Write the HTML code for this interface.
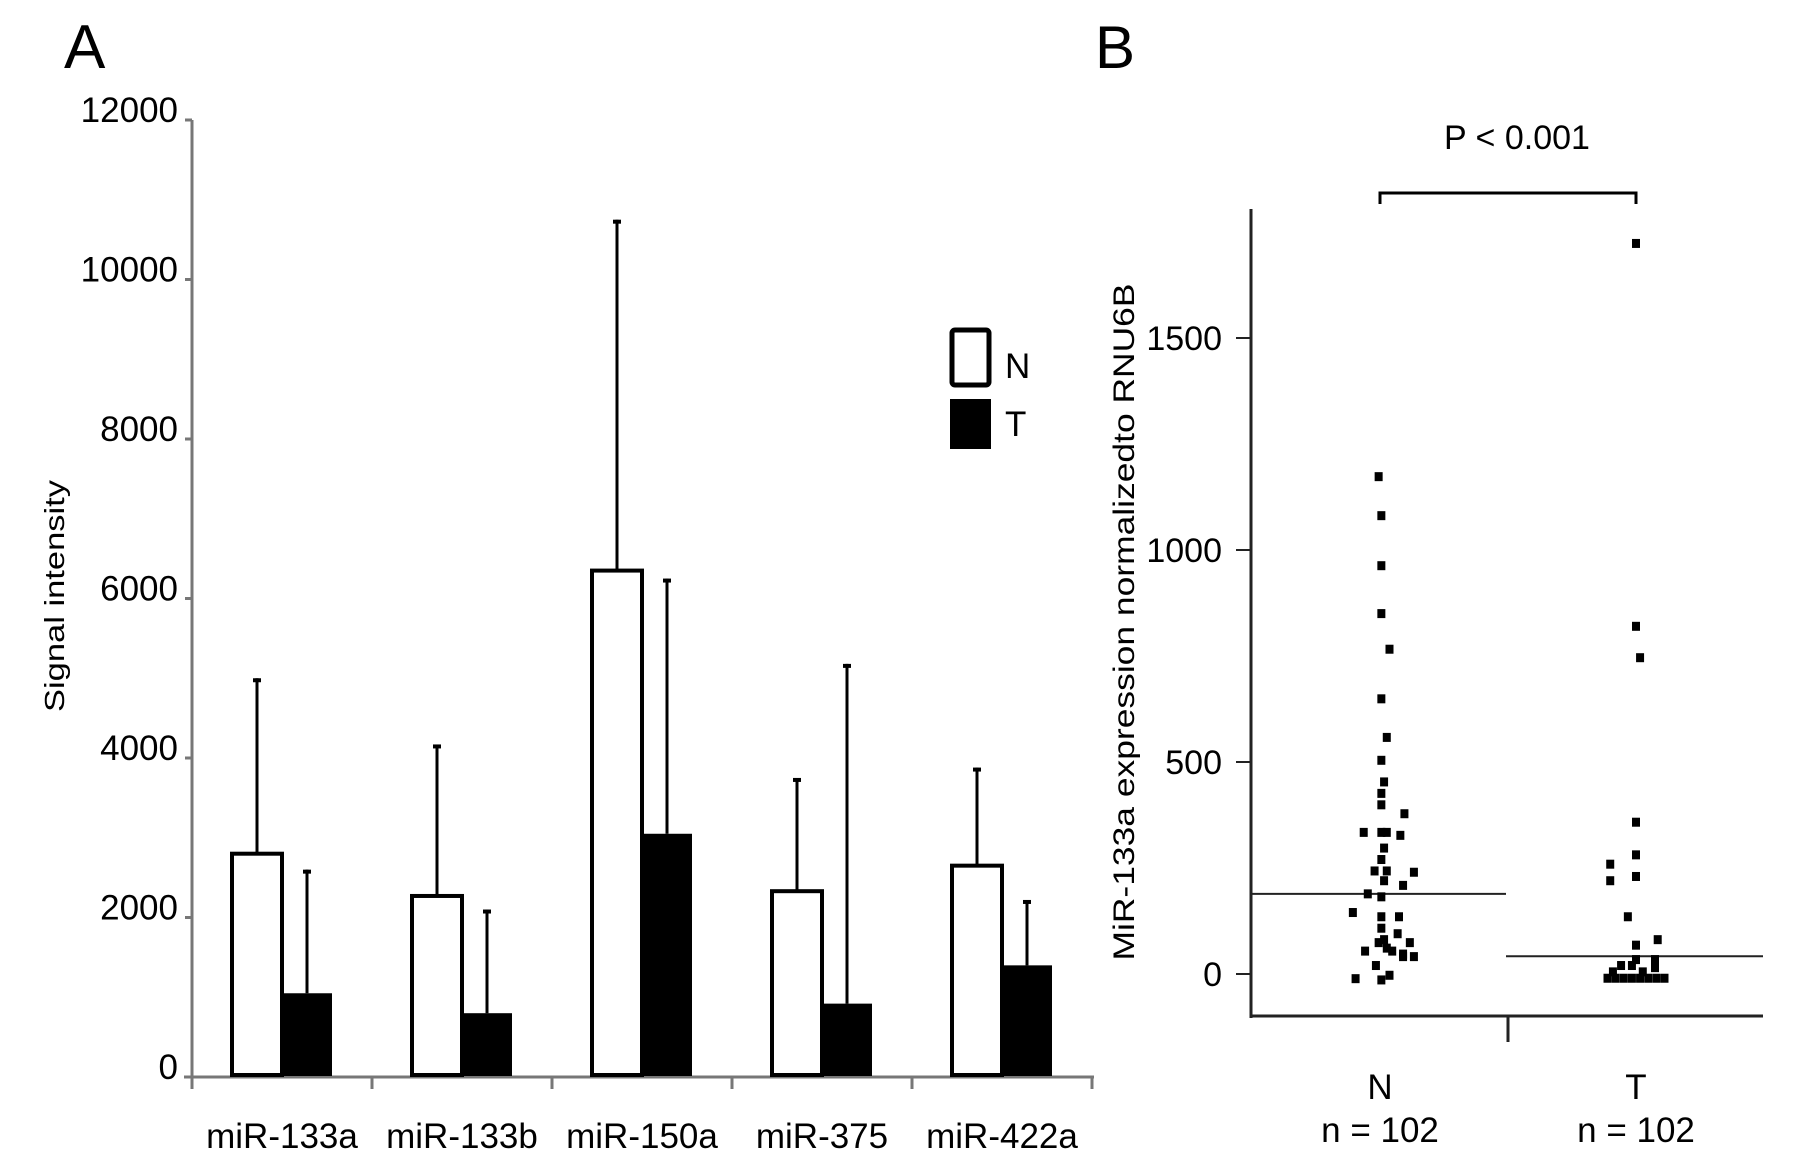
<!DOCTYPE html>
<html><head><meta charset="utf-8"><style>
html,body{margin:0;padding:0;background:#fff;}
svg{display:block;font-family:"Liberation Sans",Arial,sans-serif;}
</style></head><body>
<svg id="fig" width="1807" height="1165" viewBox="0 0 1807 1165">
<text x="64" y="68" font-size="62">A</text>
<text x="1095" y="68" font-size="60">B</text>
<g id="chartA"></g>
<g id="chartB"></g>
</svg>
<script>
// ---- Panel A data ----
const categoriesA = ["miR-133a","miR-133b","miR-150a","miR-375","miR-422a"];
const valuesN = [2800, 2270, 6350, 2330, 2650];
const valuesT = [1050, 800, 3050, 920, 1400];
const errTopN = [5000, 4170, 10750, 3750, 3880];
const errTopT = [2600, 2100, 6250, 5180, 2220];
const ticksA = [0, 2000, 4000, 6000, 8000, 10000, 12000];
// ---- Panel B data ----
const groupsB = ["N","T"];
const groupN = ["n = 102","n = 102"];
const pointsN = [1173,1081,963,850,766,649,558,504,453,426,399,378,334,334,334,327,297,270,243,243,240,220,209,189,182,145,135,135,108,95,81,74,54,54,47,41,20,-3,-11,-14,74,61,41];
const jitterN = [-0.01,0.01,0.01,0.01,0.07,0.01,0.05,0.01,0.03,0.01,0.01,0.18,-0.12,0.01,0.05,0.15,0.03,0.01,-0.04,0.05,0.25,0.03,0.17,-0.09,0.01,-0.2,0.01,0.14,0.01,0.13,0.03,0.22,-0.11,0.09,0.17,0.25,-0.03,0.07,-0.18,0.01,-0.01,0.05,0.17];
const pointsT = [1723,820,746,358,281,259,220,230,135,68,81,34,34,20,20,-10,-10,-10,-10,-10,-10,-10,-10,5,5,15];
const jitterT = [0,0,0.03,0,0,-0.19,-0.19,0,-0.06,0,0.16,0,0.14,-0.11,-0.03,-0.21,-0.15,-0.09,-0.03,0.03,0.09,0.15,0.21,-0.17,0.05,0.14];
const mediansB = [189, 42];
const ticksB = [0, 500, 1000, 1500];

const NS = "http://www.w3.org/2000/svg";
function mk(parent, tag, attrs, text){
  const e = document.createElementNS(NS, tag);
  for (const k in attrs) e.setAttribute(k, attrs[k]);
  if (text !== undefined) e.textContent = text;
  parent.appendChild(e);
  return e;
}

// ---- Panel A ----
(function(){
  const g = document.getElementById('chartA');
  const x0 = 192, y0 = 1077, yTop = 120, band = 180;
  const yA = v => y0 - v * (y0 - yTop) / 12000;
  const bx = i => x0 + band * i;
  let e;
  e = mk(g,'line',{x1:x0,y1:yTop,x2:x0,y2:y0,stroke:'#777','stroke-width':3});
  
  
  e = mk(g,'line',{x1:x0-8,y1:y0,x2:x0+band*categoriesA.length+2,y2:y0,stroke:'#777','stroke-width':3});
  
  
  ticksA.forEach(t=>{
    e = mk(g,'line',{x1:x0-7,y1:yA(t),x2:x0,y2:yA(t),stroke:'#777','stroke-width':3});
    
    
    e = mk(g,'text',{x:178,y:yA(t)+2,'font-size':35,'text-anchor':'end'},String(t));
    
    
  });
  for (let i=0;i<=categoriesA.length;i++){
    e = mk(g,'line',{x1:bx(i),y1:y0,x2:bx(i),y2:y0+12,stroke:'#777','stroke-width':3});
    
    
  }
  e = mk(g,'text',{x:0,y:0,'font-size':28,'text-anchor':'middle',transform:'translate(64,596) rotate(-90)',textLength:232,lengthAdjust:'spacingAndGlyphs'},'Signal intensity');
  
  
  const bw = 50;
  categoriesA.forEach((c,i)=>{
    const nx = bx(i)+40, tx = nx+bw;
    [[nx,valuesN[i],errTopN[i]],[tx,valuesT[i],errTopT[i]]].forEach((d,k)=>{
      const cx = d[0]+bw/2;
      e = mk(g,'line',{x1:cx,y1:yA(d[1]),x2:cx,y2:yA(d[2]),stroke:'#000','stroke-width':3});
      
      
      e = mk(g,'line',{x1:cx-4,y1:yA(d[2])+2,x2:cx+4,y2:yA(d[2])+2,stroke:'#000','stroke-width':4});
      
      
    });
    e = mk(g,'rect',{x:nx,y:yA(valuesN[i]),width:bw,height:y0-yA(valuesN[i])-2,fill:'#fff',stroke:'#000','stroke-width':4});
    
    
    e = mk(g,'rect',{x:tx,y:yA(valuesT[i]),width:bw,height:y0-yA(valuesT[i])-1,fill:'#000'});
    
    
    e = mk(g,'text',{x:bx(i)+band/2,y:1148,'font-size':35,'text-anchor':'middle'},c);
    
    
  });
  e = mk(g,'rect',{x:952,y:330,width:37,height:55,rx:3,fill:'#fff',stroke:'#000','stroke-width':5});
  
  
  e = mk(g,'rect',{x:950,y:399,width:41,height:50,fill:'#000'});
  
  
  e = mk(g,'text',{x:1005,y:378,'font-size':35},'N');
  
  
  e = mk(g,'text',{x:1005,y:436,'font-size':35},'T');
  
  
})();

// ---- Panel B ----
(function(){
  const g = document.getElementById('chartB');
  const xL = 1251, xR = 1763, yAx = 1016, yTopAx = 209, y0 = 974, per500 = 212;
  const yB = v => y0 - v * per500 / 500;
  const centers = [1380, 1636];
  const spread = 256;
  let e;
  e = mk(g,'line',{x1:xL,y1:yTopAx,x2:xL,y2:yAx+2,stroke:'#222','stroke-width':3});
  
  
  e = mk(g,'line',{x1:xL,y1:yAx,x2:xR,y2:yAx,stroke:'#222','stroke-width':3});
  
  
  e = mk(g,'line',{x1:(centers[0]+centers[1])/2,y1:yAx,x2:(centers[0]+centers[1])/2,y2:1042,stroke:'#222','stroke-width':3});
  
  
  ticksB.forEach(t=>{
    e = mk(g,'line',{x1:xL-15,y1:yB(t),x2:xL,y2:yB(t),stroke:'#222','stroke-width':2});
    
    
    e = mk(g,'text',{x:1222,y:yB(t)+12,'font-size':34,'text-anchor':'end'},String(t));
    
    
  });
  e = mk(g,'text',{x:0,y:0,'font-size':30,'text-anchor':'middle',transform:'translate(1134,622) rotate(-90)',textLength:677,lengthAdjust:'spacingAndGlyphs'},'MiR-133a expression normalizedto RNU6B');
  
  
  groupsB.forEach((gname,i)=>{
    e = mk(g,'text',{x:centers[i],y:1099,'font-size':35,'text-anchor':'middle'},gname);
    
    
    e = mk(g,'text',{x:centers[i],y:1142,'font-size':35,'text-anchor':'middle'},groupN[i]);
    
    
  });
  const bounds = [[xL,1506],[1506,xR]];
  mediansB.forEach((m,i)=>{
    e = mk(g,'line',{x1:bounds[i][0],y1:yB(m),x2:bounds[i][1],y2:yB(m),stroke:'#222','stroke-width':2});
    
    
  });
  [[pointsN,jitterN],[pointsT,jitterT]].forEach((s,i)=>{
    s[0].forEach((v,j)=>{
      const cx = centers[i] + s[1][j]*spread*0.53;
      e = mk(g,'rect',{x:cx-4,y:yB(v)-4.5,width:8,height:9,fill:'#000'});
      
      
    });
  });
  e = mk(g,'path',{d:`M${centers[0]},204 L${centers[0]},193 L${centers[1]},193 L${centers[1]},204`,fill:'none',stroke:'#000','stroke-width':3});
  
  
  e = mk(g,'text',{x:1517,y:149,'font-size':34,'text-anchor':'middle'},'P < 0.001');
  
  
})();
</script>
</body></html>
